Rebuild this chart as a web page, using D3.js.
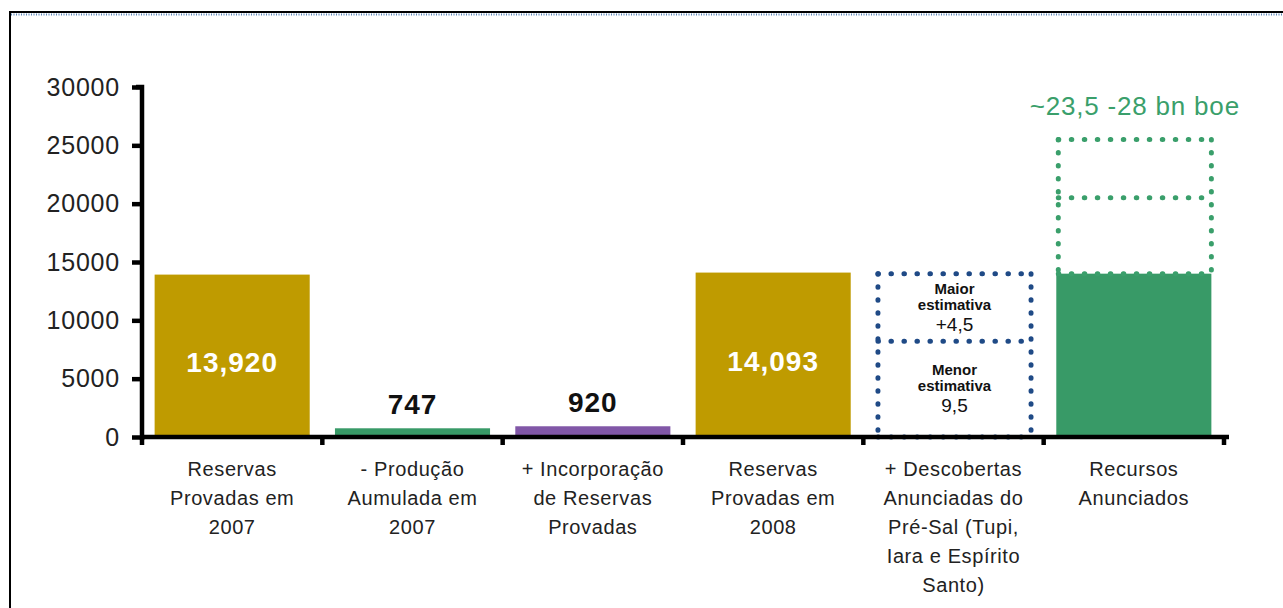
<!DOCTYPE html>
<html>
<head>
<meta charset="utf-8">
<script src="https://cdn.jsdelivr.net/npm/d3@7"></script>
<style>
  body { margin: 0; background: #fff; }
  text { font-family: "Liberation Sans", Arial, sans-serif; }
</style>
</head>
<body>
<div id="chart"></div>
<script>
"use strict";
// data
const categories = [
  ["Reservas", "Provadas em", "2007"],
  ["- Produção", "Aumulada em", "2007"],
  ["+ Incorporação", "de Reservas", "Provadas"],
  ["Reservas", "Provadas em", "2008"],
  ["+ Descobertas", "Anunciadas do", "Pré-Sal (Tupi,", "Iara e Espírito", "Santo)"],
  ["Recursos", "Anunciados"]
];
const barValues = [13920, 747, 920, 14093, null, 14000];
const barLabels = ["13,920", "747", "920", "14,093", "", ""];
const barColors = ["#bf9b00", "#389a67", "#8157a7", "#bf9b00", "none", "#389a67"];
const preSalSteps = [0, 8200, 14000];          // dotted box edges (navy)
const preSalText = [["Menor", "estimativa", "9,5"], ["Maior", "estimativa", "+4,5"]];
const recursosSteps = [14000, 20500, 25500];   // dotted box edges (green)
const recursosNote = "~23,5 -28 bn boe";
const yTicks = [0, 5000, 10000, 15000, 20000, 25000, 30000];

const W = 1283, H = 608;
const svg = d3.select("#chart").append("svg")
  .attr("width", W)
  .attr("height", H);

// frame of the slide
svg.append("line").attr("x1", 10).attr("x2", 10).attr("y1", 11).attr("y2", H)
  .attr("stroke", "#000").attr("stroke-width", 2);
svg.append("line").attr("x1", 10).attr("x2", W).attr("y1", 12).attr("y2", 12)
  .attr("stroke", "#000").attr("stroke-width", 2);
svg.append("line").attr("x1", 11).attr("x2", W).attr("y1", 14.5).attr("y2", 14.5)
  .attr("stroke", "#5a85b8").attr("stroke-width", 2).attr("stroke-dasharray", "1 1.5");

const x0 = 142;
const x = d3.scaleBand()
  .domain(d3.range(categories.length))
  .range([x0, 1224])
  .paddingInner(0.14)
  .paddingOuter(0.07);
const y = d3.scaleLinear().domain([0, 30000]).range([437, 87]);

// bars
svg.selectAll("rect.bar")
  .data(barValues.map((v, i) => ({ v, i })).filter(d => d.v !== null))
  .enter()
  .append("rect")
  .attr("class", "bar")
  .attr("x", d => x(d.i))
  .attr("y", d => y(d.v))
  .attr("width", x.bandwidth())
  .attr("height", d => y(0) - y(d.v))
  .attr("fill", d => barColors[d.i]);

// value labels
barValues.forEach((v, i) => {
  if (v === null || !barLabels[i]) return;
  const inside = v > 5000;
  svg.append("text")
    .attr("x", x(i) + x.bandwidth() / 2)
    .attr("y", inside ? y(v / 2) + 16 : y(v) - 14)
    .attr("text-anchor", "middle")
    .attr("font-size", 28)
    .attr("font-weight", "bold")
    .attr("letter-spacing", 1)
    .attr("fill", inside ? "#fff" : "#111")
    .text(barLabels[i]);
});

function dottedBox(i, steps, color) {
  const g = svg.append("g")
    .attr("fill", "none")
    .attr("stroke", color)
    .attr("stroke-width", 5)
    .attr("stroke-linecap", "round")
    .attr("stroke-dasharray", "0.5 12.5");
  const xa = x(i) + 2, xb = x(i) + x.bandwidth();
  const yTop = y(steps[steps.length - 1]), yBot = y(steps[0]);
  g.append("line").attr("x1", xa).attr("x2", xa).attr("y1", yTop).attr("y2", yBot);
  g.append("line").attr("x1", xb).attr("x2", xb).attr("y1", yTop).attr("y2", yBot);
  steps.forEach(s => {
    g.append("line").attr("x1", xa).attr("x2", xb).attr("y1", y(s)).attr("y2", y(s));
  });
}

const preIdx = 4, recIdx = 5;
dottedBox(preIdx, preSalSteps, "#1f4a86");
dottedBox(recIdx, recursosSteps, "#3a9f6b");

// text inside the pre-sal box
preSalText.forEach((lines, k) => {
  const mid = (y(preSalSteps[k]) + y(preSalSteps[k + 1])) / 2;
  const cx = x(preIdx) + x.bandwidth() / 2 + 1;
  svg.append("text").attr("x", cx).attr("y", mid - 14)
    .attr("text-anchor", "middle").attr("font-size", 15).attr("font-weight", "bold")
    .attr("fill", "#111").text(lines[0]);
  svg.append("text").attr("x", cx).attr("y", mid + 2)
    .attr("text-anchor", "middle").attr("font-size", 15).attr("font-weight", "bold")
    .attr("fill", "#111").text(lines[1]);
  svg.append("text").attr("x", cx).attr("y", mid + 23)
    .attr("text-anchor", "middle").attr("font-size", 19)
    .attr("fill", "#111").text(lines[2]);
});

svg.append("text")
  .attr("x", x(recIdx) + x.bandwidth() / 2 + 1)
  .attr("y", 115)
  .attr("text-anchor", "middle")
  .attr("font-size", 26)
  .attr("letter-spacing", 0.8)
  .attr("fill", "#3a9f6b")
  .text(recursosNote);

// y axis
const yAxis = svg.append("g")
  .attr("transform", `translate(${x0},0)`)
  .call(d3.axisLeft(y).tickValues(yTicks).tickSize(10).tickPadding(12).tickFormat(d => d));
yAxis.select(".domain").attr("stroke", "#000").attr("stroke-width", 4.5)
  .attr("d", "M-6," + (y(30000)) + "H0V" + (y(0) + 3));
yAxis.selectAll(".tick line").attr("stroke", "#000").attr("stroke-width", 4.5);
yAxis.selectAll(".tick text")
  .attr("font-family", "'DejaVu Sans', sans-serif")
  .attr("font-size", 25)
  .attr("letter-spacing", 0.8)
  .attr("fill", "#222");

// x axis with ticks at band edges
const xAxis = svg.append("g");
xAxis.append("line")
  .attr("x1", x0 - 2).attr("x2", 1229)
  .attr("y1", y(0)).attr("y2", y(0))
  .attr("stroke", "#000").attr("stroke-width", 4.5);
xAxis.selectAll("line.edge")
  .data(d3.range(categories.length + 1))
  .enter()
  .append("line")
  .attr("class", "edge")
  .attr("x1", i => x0 + i * x.step())
  .attr("x2", i => x0 + i * x.step())
  .attr("y1", y(0))
  .attr("y2", y(0) + 8)
  .attr("stroke", "#000")
  .attr("stroke-width", 4.5);

// category labels
categories.forEach((lines, i) => {
  const t = svg.append("text")
    .attr("x", x(i) + x.bandwidth() / 2)
    .attr("y", 476)
    .attr("text-anchor", "middle")
    .attr("font-size", 20)
    .attr("letter-spacing", 0.6)
    .attr("fill", "#222");
  lines.forEach((ln, k) => {
    t.append("tspan")
      .attr("x", x(i) + x.bandwidth() / 2)
      .attr("dy", k === 0 ? 0 : 29)
      .text(ln);
  });
});
</script>
</body>
</html>
